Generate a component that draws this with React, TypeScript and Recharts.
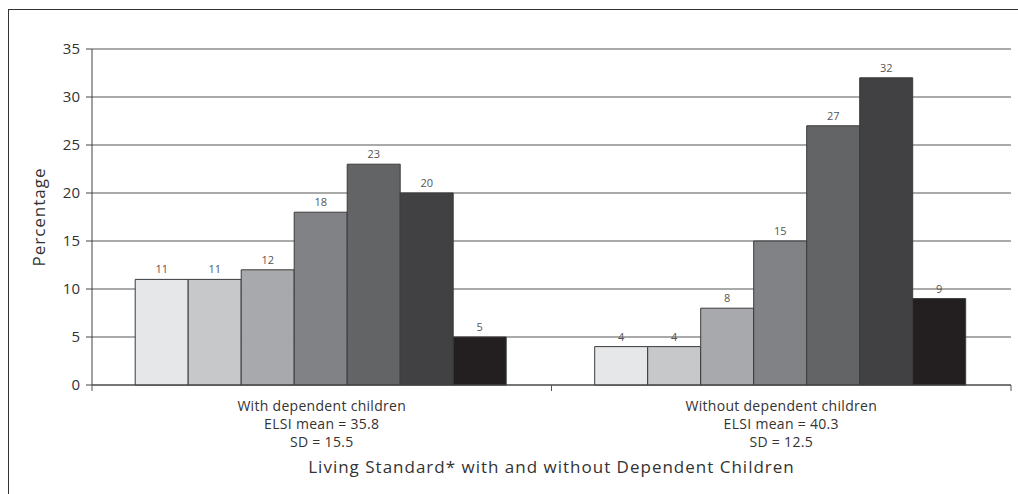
import { BarChart, Bar, XAxis, YAxis, CartesianGrid, LabelList } from 'recharts';

// ELSI living standard levels, percent of people in each household group
const categories = ['With dependent children', 'Without dependent children'];
const elsiMeans = [35.8, 40.3];
const elsiSds = [15.5, 12.5];

const severeHardship = [11, 4];
const significantHardship = [11, 4];
const someHardship = [12, 8];
const fairlyComfortable = [18, 15];
const comfortable = [23, 27];
const goodLiving = [20, 32];
const veryGood = [5, 9];

const yTicks = [0, 5, 10, 15, 20, 25, 30, 35];

const levels = [
  { key: 'severeHardship', values: severeHardship, fill: '#e6e7e8' },
  { key: 'significantHardship', values: significantHardship, fill: '#c7c8ca' },
  { key: 'someHardship', values: someHardship, fill: '#a7a9ac' },
  { key: 'fairlyComfortable', values: fairlyComfortable, fill: '#808285' },
  { key: 'comfortable', values: comfortable, fill: '#636466' },
  { key: 'good', values: goodLiving, fill: '#414042' },
  { key: 'veryGood', values: veryGood, fill: '#231f20' },
];

const data = categories.map((name, i) => {
  const row: Record<string, string | number> = { name };
  levels.forEach((l) => {
    row[l.key] = l.values[i];
  });
  return row;
});

const font = '"Open Sans", "Noto Sans", sans-serif';
const textColor = '#333';

const CategoryTick = (props: any) => {
  const { x, y, payload, index } = props;
  const i = payload?.index ?? index;
  const half = payload?.offset ?? 0;
  const axisY = y - 8;
  const last = i === categories.length - 1;
  return (
    <g>
      <line x1={x - half} x2={x - half} y1={axisY} y2={axisY + 6} stroke="#555" />
      {last && <line x1={x + half} x2={x + half} y1={axisY} y2={axisY + 6} stroke="#555" />}
      <text textAnchor="middle" fill={textColor} fontSize={14} letterSpacing={0.3} fontFamily={font}>
        <tspan x={x} y={axisY + 26}>{categories[i]}</tspan>
        <tspan x={x} y={axisY + 44}>{`ELSI mean = ${elsiMeans[i]}`}</tspan>
        <tspan x={x} y={axisY + 62}>{`SD = ${elsiSds[i]}`}</tspan>
      </text>
    </g>
  );
};

export default function App() {
  return (
    <div style={{ position: 'absolute', left: 0, top: 0, width: 1018, height: 494, overflow: 'hidden', background: '#fff' }}>
      <div
        style={{
          position: 'absolute',
          left: 8,
          top: 9,
          width: 1030,
          height: 500,
          border: '1px solid #333',
          boxSizing: 'border-box',
        }}
      />
      <BarChart
        width={1018}
        height={494}
        data={data}
        margin={{ top: 49, right: 7, left: 0, bottom: 0 }}
        barCategoryGap="9.4%"
        barGap={0}
        style={{ position: 'absolute', left: 0, top: 0, fontFamily: font }}
      >
        <CartesianGrid vertical={false} stroke="#555" yAxisId="left" />
        <XAxis
          dataKey="name"
          height={109}
          tickLine={false}
          tickSize={6}
          tickMargin={2}
          axisLine={{ stroke: '#444' }}
          tick={<CategoryTick />}
          interval={0}
          label={{
            value: 'Living Standard* with and without Dependent Children',
            position: 'insideBottom',
            offset: 21,
            fill: textColor,
            fontSize: 17,
            letterSpacing: 1,
            fontFamily: font,
          }}
        />
        <YAxis
          yAxisId="left"
          width={92}
          domain={[0, 35]}
          ticks={yTicks}
          interval={0}
          tickSize={6}
          tickMargin={6}
          axisLine={{ stroke: '#444' }}
          tickLine={{ stroke: '#444' }}
          tick={{ fill: textColor, fontSize: 15, fontFamily: font }}
          label={{
            value: 'Percentage',
            angle: -90,
            position: 'center',
            dx: -7,
            fill: textColor,
            fontSize: 17,
            letterSpacing: 1,
            fontFamily: font,
          }}
        />
        <YAxis
          yAxisId="right"
          orientation="right"
          width={0}
          domain={[0, 35]}
          tick={false}
          tickLine={false}
          axisLine={{ stroke: '#888' }}
        />
        {levels.map((l) => (
          <Bar
            key={l.key}
            yAxisId="left"
            dataKey={l.key}
            fill={l.fill}
            stroke="#3a3a3a"
            strokeWidth={1}
            isAnimationActive={false}
          >
            <LabelList
              dataKey={l.key}
              position="top"
              offset={6}
              fill="#555"
              fontSize={11}
              fontFamily={font}
            />
          </Bar>
        ))}
      </BarChart>
    </div>
  );
}
